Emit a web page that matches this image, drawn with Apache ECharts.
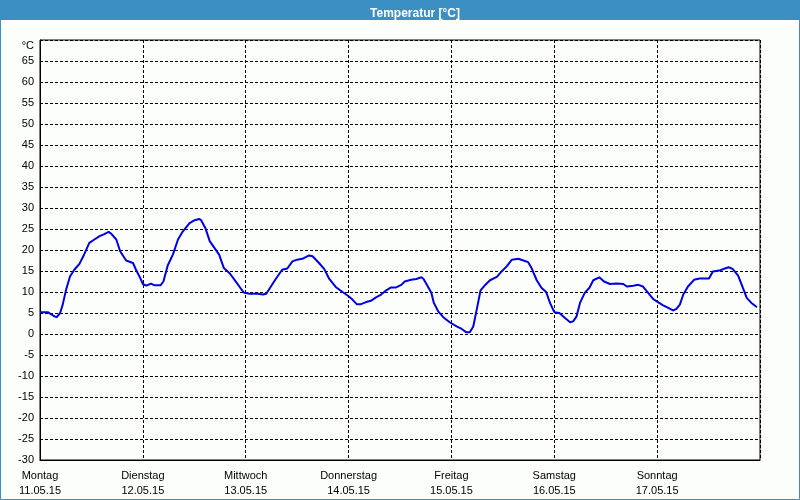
<!DOCTYPE html>
<html>
<head>
<meta charset="utf-8">
<script src="https://cdn.jsdelivr.net/npm/echarts@6/dist/echarts.min.js"></script>
<style>
html,body{margin:0;padding:0;background:#fcfefc;}
#c{width:800px;height:500px;}
</style>
</head>
<body>
<div id="c"></div>
<script>
const dayNames = ['Montag','Dienstag','Mittwoch','Donnerstag','Freitag','Samstag','Sonntag'];
const dayDates = ['11.05.15','12.05.15','13.05.15','14.05.15','15.05.15','16.05.15','17.05.15'];
const hours = [0,1.8,2.2,3.4,3.9,4.7,5.3,6.1,7.0,8.0,9.2,10.1,11.5,12.7,13.9,15.0,16.0,16.6,17.8,18.7,20.1,21.7,22.4,23.4,
  24,24.8,25.9,26.7,28.1,28.8,29.8,31.0,32.2,33.3,34.9,36.1,37.1,37.6,38.6,39.6,40.7,41.8,42.9,44.3,45.4,46.6,47.5,
  48.9,50.9,52.0,52.8,53.8,55.0,56.5,57.7,58.9,60.0,61.2,62.8,63.6,65.1,66.3,67.5,69.0,70.6,
  72,72.9,73.9,74.9,76.1,77.2,78.4,79.6,80.8,81.9,83.1,84.3,85.1,86.6,87.8,89.0,89.5,90.5,91.3,91.9,92.9,94.1,95.6,
  97.2,98.4,99.5,100.3,101.1,101.9,102.8,103.8,105.0,106.6,107.7,108.9,110.1,111.6,112.8,113.9,114.7,115.9,117.0,118.1,119.0,
  120,121.2,122.5,123.7,124.4,125.2,126.0,127.1,128.2,129.1,130.5,131.6,133.0,134.5,136.1,137.0,138.4,139.6,140.7,141.9,143.1,
  144.2,145.4,146.6,147.7,148.5,149.3,150.1,151.2,152.6,153.9,156.1,157.0,158.5,159.8,160.7,161.6,162.9,163.9,164.9,166.0,167.0,167.3];
const temps = [5.2,5.2,5.0,4.2,4.0,5.0,7.0,10.6,13.7,15.3,16.7,18.5,21.7,22.5,23.3,23.8,24.3,23.9,22.5,19.7,17.5,16.9,15.3,13.3,
  11.9,11.5,12.0,11.6,11.6,12.5,16.3,18.9,22.5,24.4,26.4,27.1,27.4,27.1,25.2,22.1,20.5,18.9,15.7,14.4,12.9,11.2,9.9,
  9.6,9.6,9.4,9.6,11.2,13.1,15.3,15.6,17.3,17.7,17.9,18.7,18.5,16.9,15.5,13.1,11.2,10.0,
  9.0,8.2,7.1,7.1,7.6,7.9,8.7,9.4,10.4,11.1,11.1,11.7,12.5,12.9,13.1,13.5,13.1,11.3,9.8,7.4,5.4,4.0,2.8,
  1.8,1.2,0.4,0.4,1.8,5.8,10.4,11.6,12.8,13.6,14.9,16.1,17.7,17.9,17.5,17.1,15.7,12.8,11.0,10.0,7.4,
  5.2,5.0,3.8,2.8,3.0,4.2,7.4,9.8,11.0,12.8,13.5,12.5,11.9,12.0,11.9,11.3,11.5,11.7,11.3,9.8,8.3,
  7.6,6.8,6.2,5.6,6.0,7.0,9.4,11.3,12.9,13.2,13.2,14.9,15.1,15.6,15.9,15.5,13.9,11.3,8.6,7.4,6.6,6.4];
const yTicks = [-30,-25,-20,-15,-10,-5,0,5,10,15,20,25,30,35,40,45,50,55,60,65];
const titleText = 'Temperatur [°C]';
const unitText = '°C';

const chart = echarts.init(document.getElementById('c'), null, {renderer:'canvas'});
const data = hours.map((h,i)=>[h,temps[i]]);
const font = '"Liberation Sans", Arial, sans-serif';
chart.setOption({
  animation:false,
  backgroundColor:'#fcfefc',
  title:{text:titleText,left:410,top:3,textAlign:'center',
    textStyle:{color:'#ffffff',fontSize:12,fontWeight:'bold',fontFamily:font}},
  graphic:[
    {type:'rect',z:-1,shape:{x:0,y:0,width:800,height:20},style:{fill:'#3c8fc3'}},
    {type:'rect',z:-1,shape:{x:0.5,y:0.5,width:799,height:499},style:{fill:null,stroke:'#3c8fc3',lineWidth:1}}
  ],
  grid:{left:40,right:40,top:40,bottom:40,show:true,borderColor:'#000',borderWidth:1,backgroundColor:'transparent'},
  xAxis:{type:'value',min:0,max:168,interval:24,
    axisLine:{show:true,onZero:false,lineStyle:{color:'#000',width:1}},
    axisTick:{show:false},
    splitLine:{show:true,lineStyle:{color:'#000',type:[3,2],width:1}},
    axisLabel:{margin:8,color:'#000',fontSize:11,fontFamily:font,lineHeight:15,showMaxLabel:false,
      formatter:v=>{const i=Math.round(v/24); return i<7?dayNames[i]+'\n'+dayDates[i]:'';}}
  },
  yAxis:{type:'value',min:-30,max:70,interval:5,
    axisLine:{show:true,onZero:false,lineStyle:{color:'#000',width:1}},
    axisTick:{show:false},
    splitLine:{show:true,lineStyle:{color:'#000',type:[3,2],width:1}},
    axisLabel:{margin:6,color:'#000',fontSize:11,fontFamily:font,
      formatter:v=>{ if(v===70) return '{u|'+unitText+'}'; return yTicks.indexOf(v)>=0?String(v):''; },
      rich:{u:{fontSize:11,fontFamily:font,color:'#000',padding:[12,0,0,0]}}}
  },
  series:[{type:'line',data:data,showSymbol:false,smooth:false,
    lineStyle:{color:'#0000e0',width:2},itemStyle:{color:'#0000e0'}}]
});
</script>
</body>
</html>
